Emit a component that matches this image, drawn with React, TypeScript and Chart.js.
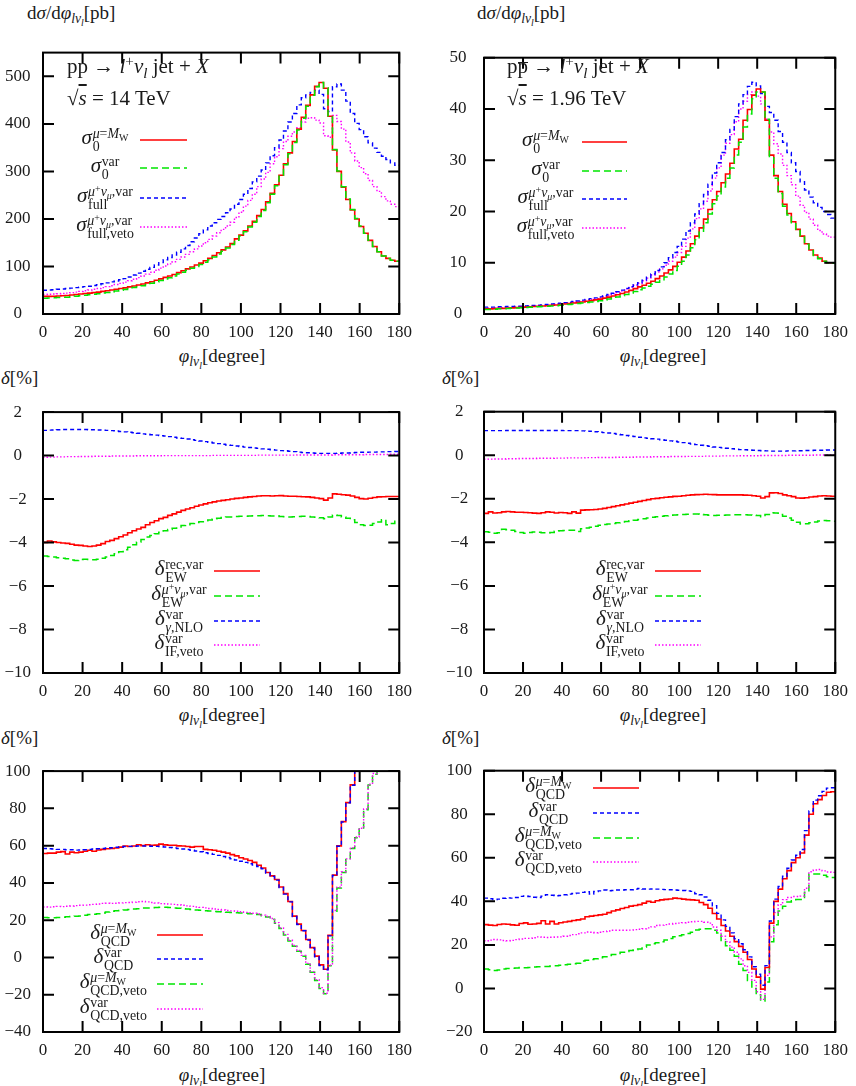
import { useEffect, useRef } from "react";
import type { ReactNode } from "react";
import { Chart, registerables } from "chart.js";

Chart.register(...registerables);

// phi bins: 80 bins of 2.25 degree from 0 to 180
const BIN_WIDTH = 2.25;
const PHI_TICKS = [0, 20, 40, 60, 80, 100, 120, 140, 160, 180];

const LHC_SIGMA_TICKS = [0, 100, 200, 300, 400, 500];
const TEV_SIGMA_TICKS = [0, 10, 20, 30, 40, 50];
const EW_TICKS = [-10, -8, -6, -4, -2, 0, 2];
const LHC_QCD_TICKS = [-40, -20, 0, 20, 40, 60, 80, 100];
const TEV_QCD_TICKS = [-20, 0, 20, 40, 60, 80, 100];

// pp -> l+ nu jet + X, sqrt(s) = 14 TeV   [pb]
const lhcSigmaMw = [
  37, 37, 37.5, 38, 38.5, 39, 40, 41, 42, 43,
  44, 45, 46, 47.5, 49, 50.5, 52, 53.5, 55, 57,
  59, 61, 63, 65.5, 68, 71, 74, 77, 80, 83,
  87, 91, 95, 99, 103, 107, 112, 117, 123, 129,
  135, 141, 148, 158, 166, 175, 185, 195, 207, 220,
  236, 254, 272, 292, 316, 339, 363, 389, 414, 439,
  461, 479, 487, 475, 416, 345, 300, 267, 241, 219,
  200, 184, 170, 155, 142, 131, 122, 117, 113, 111,
];
const lhcSigmaVar = [
  33, 33.5, 34, 34.5, 35, 35.5, 36.5, 37.5, 38.5, 39.5,
  40.5, 41.5, 42.5, 44, 45.5, 47, 48.5, 50, 51.5, 53.5,
  55.5, 57.5, 59.5, 62, 64.5, 67.5, 70.5, 73.5, 76.5, 80,
  84, 88, 92, 96, 100, 104, 109, 114, 120, 126,
  132, 139, 146, 155, 164, 173, 183, 193, 205, 218,
  234, 252, 270, 290, 314, 337, 361, 387, 412, 437,
  460, 478, 487, 476, 417, 346, 301, 268, 242, 220,
  201, 185, 170, 155, 142, 131, 122, 117, 113, 111,
];
const lhcSigmaFull = [
  50, 50.5, 51, 52, 52.5, 53.5, 54.5, 55.5, 56.5, 57.5,
  58.5, 60, 61.5, 63.5, 65.5, 67.5, 69.5, 72, 74.5, 78,
  82, 86, 90, 94, 98, 103, 108, 114, 119, 124,
  130, 137, 144, 152, 160, 169, 177, 185, 192, 199,
  205, 213, 221, 231, 241, 252, 264, 278, 290, 303,
  318, 333, 350, 366, 385, 404, 422, 440, 455, 461,
  466, 471, 462, 432, 426, 478, 484, 471, 448, 422,
  401, 388, 373, 360, 349, 340, 332, 325, 318, 313,
];
const lhcSigmaVeto = [
  41, 41.5, 42, 42.5, 43, 44, 45, 46, 47.5, 49,
  50.5, 52, 53.5, 55.5, 57.5, 59.5, 62, 64.5, 67, 70,
  73, 76.5, 80, 84, 88, 92, 96.5, 101, 105.5, 110,
  115, 120, 125.5, 131, 137, 143, 150, 157, 164, 171,
  178, 185, 193, 203, 214, 227, 239, 252, 268, 284,
  298, 316, 331, 348, 363, 374, 383, 392, 404, 412,
  413, 408, 402, 375, 372, 418, 405, 389, 362, 339,
  322, 308, 295, 281, 268, 258, 247, 238, 231, 226,
];

// p pbar -> l+ nu jet + X, sqrt(s) = 1.96 TeV   [pb]
const tevSigmaMw = [
  1.0, 1.0, 1.05, 1.1, 1.1, 1.15, 1.2, 1.25, 1.3, 1.35,
  1.4, 1.45, 1.5, 1.55, 1.6, 1.7, 1.75, 1.85, 1.95, 2.05,
  2.15, 2.25, 2.35, 2.5, 2.6, 2.75, 2.9, 3.1, 3.3, 3.5,
  3.75, 4.0, 4.3, 4.6, 4.95, 5.3, 5.6, 6.0, 6.4, 6.9,
  7.4, 8.0, 8.6, 9.3, 10.1, 11.1, 12.3, 13.7, 15.2, 16.8,
  18.5, 20.4, 22.3, 23.9, 25.6, 27.3, 29.4, 32.2, 34.1, 37.8,
  39.9, 42.7, 43.9, 43.3, 37.8, 31.0, 27.0, 23.9, 21.4, 19.6,
  18.0, 16.5, 15.2, 13.7, 12.5, 11.5, 10.9, 10.3, 10.0, 10.0,
];
const tevSigmaVar = [
  0.9, 0.9, 0.95, 1.0, 1.0, 1.05, 1.1, 1.15, 1.2, 1.25,
  1.3, 1.35, 1.4, 1.45, 1.5, 1.55, 1.6, 1.7, 1.75, 1.85,
  1.95, 2.05, 2.15, 2.25, 2.35, 2.45, 2.6, 2.75, 2.95, 3.1,
  3.3, 3.55, 3.8, 4.1, 4.4, 4.75, 5.05, 5.4, 5.8, 6.2,
  6.7, 7.2, 7.8, 8.5, 9.3, 10.3, 11.5, 12.9, 14.5, 16.0,
  17.8, 19.5, 21.5, 23.0, 24.8, 26.5, 28.5, 31.0, 33.5, 36.5,
  39.0, 42.0, 43.3, 43.3, 38.0, 30.5, 26.5, 23.5, 21.0, 19.3,
  17.8, 16.3, 15.0, 13.6, 12.4, 11.4, 10.8, 10.3, 10.0, 9.9,
];
const tevSigmaFull = [
  1.35, 1.35, 1.35, 1.4, 1.4, 1.45, 1.45, 1.5, 1.5, 1.55,
  1.6, 1.65, 1.7, 1.8, 1.85, 1.95, 2.0, 2.1, 2.2, 2.3,
  2.45, 2.55, 2.7, 2.85, 3.0, 3.15, 3.35, 3.55, 3.8, 4.05,
  4.35, 4.65, 5.0, 5.35, 5.7, 6.1, 6.6, 7.2, 7.8, 8.5,
  9.2, 10.0, 11.0, 12.0, 13.2, 14.6, 16.2, 17.8, 19.5, 21.5,
  23.3, 25.3, 27.5, 29.5, 31.5, 34.0, 36.0, 38.5, 41.0, 42.8,
  44.4, 45.2, 44.5, 43.0, 40.5, 39.3, 37.8, 35.6, 33.5, 31.5,
  29.5, 27.8, 25.8, 24.2, 22.8, 21.7, 20.8, 20.0, 19.4, 18.7,
];
const tevSigmaVeto = [
  1.2, 1.2, 1.2, 1.25, 1.25, 1.3, 1.3, 1.35, 1.4, 1.45,
  1.5, 1.55, 1.6, 1.65, 1.75, 1.8, 1.9, 2.0, 2.1, 2.2,
  2.3, 2.45, 2.55, 2.7, 2.85, 3.0, 3.2, 3.4, 3.65, 3.9,
  4.2, 4.5, 4.85, 5.2, 5.6, 6.0, 6.5, 7.0, 7.6, 8.2,
  8.8, 9.5, 10.3, 11.1, 12.0, 13.2, 14.8, 16.6, 18.6, 20.5,
  22.0, 24.0, 26.5, 28.5, 31.0, 33.3, 35.0, 37.5, 40.0, 41.5,
  42.8, 43.3, 42.5, 41.0, 38.0, 35.5, 33.2, 31.2, 29.0, 27.0,
  25.2, 23.0, 21.2, 19.8, 18.5, 17.3, 16.3, 15.6, 15.2, 15.0,
];

// electroweak corrections [%], LHC
const lhcEwRec = [
  -3.99, -3.93, -3.97, -4.0, -4.02, -4.04, -4.08, -4.12, -4.13, -4.16,
  -4.18, -4.16, -4.12, -4.05, -3.95, -3.9, -3.82, -3.73, -3.65, -3.55,
  -3.46, -3.38, -3.3, -3.18, -3.08, -3.0, -2.9, -2.84, -2.75, -2.68,
  -2.6, -2.52, -2.46, -2.4, -2.33, -2.27, -2.22, -2.17, -2.13, -2.09,
  -2.06, -2.03, -2.0, -1.97, -1.95, -1.92, -1.9, -1.88, -1.86, -1.85,
  -1.85, -1.86, -1.85, -1.84, -1.86, -1.87, -1.87, -1.88, -1.89, -1.9,
  -1.92, -1.95, -1.98, -2.05, -1.95, -1.76, -1.78, -1.8, -1.82, -1.86,
  -1.92, -1.98, -2.0, -1.96, -1.93, -1.9, -1.89, -1.88, -1.88, -1.88,
];
const lhcEwMu = [
  -4.62, -4.64, -4.66, -4.7, -4.72, -4.75, -4.8, -4.82, -4.78, -4.77,
  -4.78, -4.79, -4.77, -4.72, -4.66, -4.6, -4.52, -4.42, -4.33, -4.22,
  -4.1, -3.98, -3.86, -3.75, -3.68, -3.6, -3.53, -3.46, -3.4, -3.34,
  -3.28, -3.22, -3.18, -3.12, -3.08, -3.04, -3.0, -2.96, -2.92, -2.88,
  -2.85, -2.83, -2.82, -2.8, -2.79, -2.79, -2.78, -2.77, -2.77, -2.76,
  -2.77, -2.78, -2.77, -2.8, -2.81, -2.82, -2.81, -2.8, -2.79, -2.8,
  -2.82, -2.84, -2.86, -2.9, -2.82, -2.73, -2.76, -2.82, -2.88, -2.95,
  -3.08, -3.18, -3.22, -3.2, -3.12, -3.05, -2.95, -3.18, -3.12, -3.02,
];
const lhcGammaNlo = [
  1.16, 1.17, 1.18, 1.19, 1.2, 1.2, 1.2, 1.2, 1.2, 1.2,
  1.19, 1.19, 1.18, 1.17, 1.16, 1.15, 1.13, 1.11, 1.09, 1.07,
  1.05, 1.03, 1.0, 0.98, 0.96, 0.94, 0.92, 0.9, 0.87, 0.84,
  0.81, 0.79, 0.76, 0.73, 0.7, 0.67, 0.64, 0.61, 0.58, 0.55,
  0.52, 0.49, 0.47, 0.44, 0.42, 0.39, 0.37, 0.35, 0.33, 0.31,
  0.29, 0.27, 0.25, 0.23, 0.22, 0.2, 0.18, 0.16, 0.14, 0.13,
  0.12, 0.11, 0.1, 0.1, 0.1, 0.1, 0.11, 0.12, 0.12, 0.13,
  0.14, 0.15, 0.15, 0.16, 0.16, 0.17, 0.17, 0.18, 0.18, 0.19,
];
const lhcIfVeto = [
  -0.08, -0.07, -0.07, -0.06, -0.06, -0.05, -0.05, -0.05, -0.04, -0.04,
  -0.04, -0.03, -0.03, -0.03, -0.03, -0.02, -0.02, -0.02, -0.02, -0.02,
  -0.02, -0.01, -0.01, -0.01, -0.01, -0.01, -0.01, 0, 0, 0,
  0, 0, 0, 0, 0, 0, 0, 0, 0.01, 0.01,
  0.01, 0.01, 0.01, 0.01, 0.01, 0.01, 0.01, 0.01, 0.02, 0.02,
  0.02, 0.02, 0.02, 0.02, 0.02, 0.02, 0.02, 0.03, 0.03, 0.03,
  0.03, 0.03, 0.03, 0.03, 0.03, 0.04, 0.04, 0.04, 0.04, 0.04,
  0.04, 0.04, 0.05, 0.05, 0.05, 0.05, 0.05, 0.05, 0.06, 0.06,
];

// electroweak corrections [%], Tevatron
const tevEwRec = [
  -2.67, -2.6, -2.65, -2.64, -2.6, -2.58, -2.6, -2.62, -2.62, -2.63,
  -2.64, -2.66, -2.67, -2.64, -2.6, -2.62, -2.65, -2.63, -2.64, -2.67,
  -2.6, -2.66, -2.52, -2.51, -2.5, -2.49, -2.47, -2.44, -2.4, -2.36,
  -2.32, -2.28, -2.24, -2.2, -2.16, -2.12, -2.08, -2.04, -2.0, -1.98,
  -1.95, -1.93, -1.91, -1.89, -1.88, -1.86, -1.84, -1.82, -1.81, -1.8,
  -1.79, -1.8, -1.81, -1.82, -1.82, -1.82, -1.82, -1.82, -1.82, -1.83,
  -1.84, -1.86, -1.88, -1.96, -1.9, -1.73, -1.72, -1.76, -1.82, -1.86,
  -1.9, -1.96, -1.97, -1.95, -1.92, -1.9, -1.87, -1.86, -1.87, -1.88,
];
const tevEwMu = [
  -3.51, -3.54, -3.58, -3.56, -3.4, -3.42, -3.45, -3.5, -3.55, -3.58,
  -3.55, -3.52, -3.54, -3.56, -3.57, -3.55, -3.49, -3.47, -3.46, -3.44,
  -3.45, -3.5, -3.37, -3.34, -3.31, -3.26, -3.22, -3.18, -3.16, -3.14,
  -3.1, -3.07, -3.04, -3.01, -2.98, -2.95, -2.92, -2.88, -2.85, -2.82,
  -2.8, -2.78, -2.76, -2.74, -2.73, -2.72, -2.71, -2.7, -2.7, -2.71,
  -2.73, -2.76, -2.77, -2.76, -2.75, -2.74, -2.74, -2.73, -2.73, -2.73,
  -2.74, -2.75, -2.77, -2.82, -2.72, -2.64, -2.65, -2.72, -2.8, -2.88,
  -2.98, -3.08, -3.16, -3.15, -3.1, -3.06, -3.02, -3.0, -3.01, -3.03,
];
const tevGammaNlo = [
  1.13, 1.13, 1.13, 1.13, 1.13, 1.14, 1.14, 1.14, 1.14, 1.14,
  1.14, 1.14, 1.14, 1.14, 1.14, 1.14, 1.14, 1.14, 1.13, 1.13,
  1.13, 1.13, 1.12, 1.11, 1.1, 1.08, 1.06, 1.04, 1.02, 1.0,
  0.97, 0.94, 0.91, 0.88, 0.86, 0.83, 0.8, 0.78, 0.76, 0.74,
  0.71, 0.69, 0.66, 0.64, 0.61, 0.58, 0.55, 0.52, 0.49, 0.46,
  0.44, 0.41, 0.38, 0.36, 0.34, 0.32, 0.3, 0.28, 0.26, 0.25,
  0.24, 0.23, 0.22, 0.21, 0.2, 0.19, 0.19, 0.19, 0.19, 0.2,
  0.2, 0.21, 0.21, 0.22, 0.22, 0.23, 0.23, 0.23, 0.24, 0.24,
];
const tevIfVeto = [
  -0.18, -0.18, -0.17, -0.17, -0.17, -0.16, -0.16, -0.16, -0.15, -0.15,
  -0.15, -0.15, -0.14, -0.14, -0.14, -0.14, -0.13, -0.13, -0.13, -0.12,
  -0.12, -0.12, -0.12, -0.11, -0.11, -0.11, -0.1, -0.1, -0.1, -0.1,
  -0.09, -0.09, -0.09, -0.09, -0.08, -0.08, -0.08, -0.08, -0.07, -0.07,
  -0.07, -0.07, -0.06, -0.06, -0.06, -0.06, -0.05, -0.05, -0.05, -0.05,
  -0.04, -0.04, -0.04, -0.04, -0.03, -0.03, -0.03, -0.03, -0.02, -0.02,
  -0.02, -0.02, -0.02, -0.01, -0.01, -0.01, -0.01, -0.01, -0.01, 0,
  0, 0, 0, 0, 0, 0.01, 0.01, 0.01, 0.01, 0.01,
];

// QCD corrections [%], LHC
const lhcQcdMw = [
  55.8, 56.0, 56.0, 56.5, 56.8, 55.5, 56.5, 56.2, 56.5, 57.0,
  57.5, 57.0, 57.7, 58.0, 58.3, 58.5, 58.7, 59.2, 59.8, 59.5,
  59.8, 60.5, 60.0, 60.5, 60.2, 60.3, 60.8, 60.4, 60.2, 60.2,
  59.9, 59.8, 59.5, 59.2, 59.5, 59.5, 58.0, 57.8, 57.5, 57.0,
  56.5, 56.0, 55.2, 54.5, 53.5, 52.8, 52.0, 51.0, 49.5, 48.0,
  45.6, 43.8, 41.8, 37.8, 34.3, 30.0, 22.2, 17.9, 14.5, 9.6,
  5.3, 0.7, -4.0, -6.3, 11.9, 44.2, 59.9, 72.9, 83.1, 92.6,
  104, 112, 120, 128, 136, 144, 152, 160, 168, 176,
];
const lhcQcdVar = [
  58.5, 58.3, 58.2, 58.0, 58.0, 57.8, 57.8, 57.6, 57.7, 57.8,
  58.0, 58.2, 58.3, 58.5, 58.7, 58.9, 59.1, 59.3, 59.5, 59.6,
  59.7, 59.8, 59.8, 59.8, 59.7, 59.6, 59.5, 59.3, 59.0, 58.8,
  58.5, 58.2, 57.9, 57.5, 57.1, 56.7, 56.2, 55.8, 55.3, 54.8,
  54.2, 53.6, 53.0, 52.3, 51.6, 51.0, 50.3, 49.6, 48.8, 47.6,
  45.3, 43.5, 41.5, 37.5, 34.0, 29.8, 22.0, 17.7, 14.3, 9.4,
  5.0, 0.4, -4.3, -6.6, 11.6, 44.0, 59.7, 72.7, 83.0, 92.4,
  104, 112, 120, 128, 136, 144, 152, 160, 168, 176,
];
const lhcQcdVetoMw = [
  21.5, 21.3, 21.3, 21.5, 21.6, 21.8, 22.0, 22.1, 22.2, 22.6,
  23.0, 23.2, 23.5, 23.8, 24.4, 24.8, 25.0, 25.2, 25.5, 25.7,
  26.0, 26.2, 26.5, 26.6, 26.7, 26.8, 26.9, 26.9, 26.8, 26.6,
  26.4, 26.2, 26.0, 25.8, 25.5, 25.3, 25.1, 24.9, 24.7, 24.5,
  24.4, 24.2, 24.1, 24.0, 23.9, 23.7, 23.5, 23.4, 23.0, 22.4,
  21.7, 20.5, 18.3, 15.5, 12.0, 8.8, 6.0, 3.3, 0.7, -3.6,
  -8.0, -12.3, -16.6, -19.5, -4.5, 24.8, 37.3, 45.6, 52.5, 58.5,
  64.2, 68.9, 79.3, 92.6, 98.3, 104, 108, 112, 116, 120,
];
const lhcQcdVetoVar = [
  27.1, 27.0, 27.2, 27.4, 27.3, 27.5, 27.6, 27.8, 28.0, 28.1,
  28.3, 28.5, 28.7, 29.0, 29.1, 29.0, 29.1, 29.3, 29.4, 29.5,
  29.7, 29.9, 30.0, 29.8, 29.5, 29.2, 28.9, 28.8, 28.6, 28.5,
  28.3, 28.0, 27.7, 27.4, 27.1, 26.9, 26.6, 26.3, 26.0, 25.7,
  25.5, 25.2, 25.0, 24.8, 24.5, 24.2, 24.0, 23.7, 23.3, 22.7,
  22.0, 20.9, 18.7, 15.9, 12.4, 9.2, 6.4, 3.7, 1.1, -3.2,
  -7.6, -11.9, -16.2, -19.2, -4.1, 25.2, 37.7, 46.0, 52.9, 58.9,
  64.6, 69.3, 79.7, 93.0, 98.7, 104, 108, 112, 116, 120,
];

// QCD corrections [%], Tevatron
const tevQcdMw = [
  29.3, 29.1, 28.9, 29.4, 29.6, 29.5, 29.2, 29.0, 29.8, 30.1,
  29.5, 29.6, 29.9, 31.1, 29.6, 30.8, 29.6, 30.2, 30.5, 30.8,
  31.2, 31.5, 31.9, 32.9, 33.2, 33.5, 33.8, 34.1, 34.8, 35.6,
  36.1, 36.7, 37.2, 37.8, 38.1, 38.5, 39.2, 40.0, 39.6, 40.3,
  40.7, 40.9, 41.1, 41.5, 41.3, 41.0, 40.8, 40.7, 40.5, 39.5,
  38.5, 36.8, 34.4, 31.9, 28.9, 26.4, 24.0, 21.5, 19.3, 16.6,
  13.3, 8.9, 5.2, -0.3, 9.6, 30.0, 40.0, 45.6, 50.4, 54.1,
  57.8, 60.0, 62.2, 70.4, 80.0, 84.8, 86.7, 88.6, 90.1, 90.3,
];
const tevQcdVar = [
  41.5, 41.2, 40.8, 41.0, 41.4, 41.6, 41.5, 41.8, 42.3, 42.5,
  42.2, 41.9, 41.8, 42.4, 43.0, 42.8, 42.6, 42.7, 43.0, 43.3,
  43.6, 43.8, 44.1, 44.4, 43.4, 44.5, 44.8, 45.2, 44.9, 45.0,
  45.2, 45.2, 45.3, 45.3, 45.6, 45.9, 45.7, 45.6, 45.7, 45.6,
  45.5, 45.4, 45.3, 45.2, 45.1, 45.0, 44.8, 44.6, 43.5, 43.0,
  42.0, 40.5, 38.0, 34.5, 31.5, 28.5, 25.5, 22.8, 20.5, 17.8,
  14.5, 10.0, 6.5, 1.5, 10.5, 31.0, 41.0, 46.8, 51.5, 55.2,
  59.0, 61.2, 63.8, 72.5, 81.5, 86.5, 88.5, 90.5, 92.0, 92.2,
];
const tevQcdVetoMw = [
  8.9, 8.6, 8.3, 8.5, 8.9, 9.2, 9.3, 9.4, 9.6, 9.5,
  9.6, 9.8, 10.0, 10.1, 10.1, 10.3, 10.4, 10.6, 10.9, 11.1,
  11.3, 11.6, 12.6, 12.9, 13.3, 13.6, 14.1, 14.6, 15.1, 15.6,
  16.1, 16.6, 17.0, 17.4, 17.8, 18.1, 19.0, 20.0, 20.5, 21.0,
  21.5, 22.2, 22.9, 23.7, 24.2, 24.7, 25.2, 25.8, 26.8, 27.2,
  27.4, 27.4, 26.7, 25.5, 21.5, 19.6, 17.5, 14.8, 11.1, 8.2,
  3.7, 0.0, -2.9, -5.8, 3.0, 21.5, 29.3, 35.6, 37.8, 39.7,
  40.3, 40.8, 40.8, 44.2, 52.6, 52.6, 52.6, 52.0, 51.3, 51.0,
];
const tevQcdVetoVar = [
  21.9, 22.2, 22.5, 22.3, 22.0, 21.9, 22.1, 22.4, 22.7, 23.0,
  23.0, 23.3, 23.7, 23.5, 23.4, 23.5, 23.6, 23.7, 24.0, 24.3,
  24.7, 25.1, 25.5, 25.9, 25.8, 25.6, 25.8, 26.1, 26.4, 26.7,
  26.7, 26.7, 26.7, 26.8, 27.0, 27.2, 27.4, 27.8, 28.3, 28.9,
  29.1, 29.3, 29.6, 29.8, 30.0, 30.2, 30.4, 30.6, 30.8, 30.8,
  30.4, 30.0, 28.2, 26.7, 24.0, 21.5, 19.0, 16.6, 13.6, 10.4,
  7.4, 3.7, -1.5, -5.0, 6.0, 23.7, 34.8, 38.5, 40.8, 41.8,
  42.2, 42.2, 42.4, 46.0, 53.6, 54.4, 54.6, 54.0, 53.5, 53.3,
];

const FONT = '"Liberation Serif", "DejaVu Serif", serif';
const INK = "#1a1a1a";
const TICK_LEN = 11;
const Y_AXIS_W = 43;
const X_AXIS_H = 30;

type LineStyle = { color: string; dash: number[]; width: number };
const RED: LineStyle = { color: "#ff0000", dash: [], width: 1.6 };
const GREEN: LineStyle = { color: "#00e600", dash: [7, 4], width: 1.5 };
const BLUE: LineStyle = { color: "#0000ff", dash: [4, 3], width: 1.4 };
const MAGENTA: LineStyle = { color: "#ff00ff", dash: [1.5, 2], width: 1.4 };

type Series = { values: number[]; style: LineStyle; order: number };

function stepPoints(values: number[]) {
  const pts = values.map((v, i) => ({ x: i * BIN_WIDTH, y: v }));
  pts.push({ x: values.length * BIN_WIDTH, y: values[values.length - 1] });
  return pts;
}

function fmtTick(v: number) {
  return v < 0 ? "\u2212" + Math.abs(v) : String(v);
}

const framePlugin = {
  id: "frame",
  afterDraw(chart: any) {
    const { ctx, chartArea: a, scales } = chart;
    ctx.save();
    ctx.strokeStyle = "#000";
    ctx.lineWidth = 2;
    ctx.beginPath();
    for (const t of scales.x.ticks) {
      const px = scales.x.getPixelForValue(t.value);
      ctx.moveTo(px, a.bottom);
      ctx.lineTo(px, a.bottom - TICK_LEN);
      ctx.moveTo(px, a.top);
      ctx.lineTo(px, a.top + TICK_LEN);
    }
    for (const t of scales.y.ticks) {
      const py = scales.y.getPixelForValue(t.value);
      ctx.moveTo(a.left, py);
      ctx.lineTo(a.left + TICK_LEN, py);
      ctx.moveTo(a.right, py);
      ctx.lineTo(a.right - TICK_LEN, py);
    }
    ctx.stroke();
    ctx.strokeRect(a.left, a.top, a.right - a.left, a.bottom - a.top);
    ctx.restore();
  },
};

type PanelProps = {
  left: number;
  top: number;
  width: number;
  height: number;
  padTop: number;
  padRight: number;
  yMin: number;
  yMax: number;
  yTicks: number[];
  tickPad: number;
  series: Series[];
};

function HistPanel(p: PanelProps) {
  const ref = useRef<HTMLCanvasElement>(null);

  useEffect(() => {
    if (!ref.current) return;
    const tickFont = { family: FONT, size: 17 };
    const chart = new Chart(ref.current, {
      type: "line",
      data: {
        datasets: p.series.map((s) => ({
          data: stepPoints(s.values),
          borderColor: s.style.color,
          borderDash: s.style.dash,
          borderWidth: s.style.width,
          pointRadius: 0,
          stepped: "before" as const,
          fill: false,
          order: s.order,
        })),
      },
      options: {
        animation: false,
        responsive: false,
        maintainAspectRatio: false,
        events: [],
        layout: { padding: { left: 0, right: p.padRight, top: p.padTop, bottom: 0 } },
        plugins: { legend: { display: false }, tooltip: { enabled: false } },
        scales: {
          x: {
            type: "linear",
            min: 0,
            max: 180,
            grid: { display: false, drawTicks: false },
            border: { display: false },
            ticks: { padding: 8, font: tickFont, color: INK, maxRotation: 0, autoSkip: false },
            afterBuildTicks: (s: any) => {
              s.ticks = PHI_TICKS.map((v) => ({ value: v }));
            },
            afterFit: (s: any) => {
              s.height = X_AXIS_H;
            },
          },
          y: {
            type: "linear",
            min: p.yMin,
            max: p.yMax,
            grid: { display: false, drawTicks: false },
            border: { display: false },
            ticks: {
              padding: p.tickPad,
              crossAlign: "center",
              font: tickFont,
              color: INK,
              autoSkip: false,
              callback: (v: any) => fmtTick(Number(v)),
            },
            afterBuildTicks: (s: any) => {
              s.ticks = p.yTicks.map((v) => ({ value: v }));
            },
            afterFit: (s: any) => {
              s.width = Y_AXIS_W;
            },
          },
        },
      },
      plugins: [framePlugin],
    } as any);
    return () => chart.destroy();
  }, []);

  return (
    <canvas
      ref={ref}
      width={p.width}
      height={p.height}
      style={{ position: "absolute", left: p.left, top: p.top, width: p.width, height: p.height }}
    />
  );
}

// ---- math-ish text helpers ----
function Sup({ children }: { children: ReactNode }) {
  return <span style={{ fontSize: "0.72em", verticalAlign: "0.45em", lineHeight: 0 }}>{children}</span>;
}
function Sub({ children }: { children: ReactNode }) {
  return <span style={{ fontSize: "0.72em", verticalAlign: "-0.3em", lineHeight: 0 }}>{children}</span>;
}
function Bar({ children }: { children: ReactNode }) {
  return (
    <span style={{ display: "inline-block", borderTop: "1.2px solid currentColor", lineHeight: "0.35em" }}>
      {children}
    </span>
  );
}
function Stack({ sup, sub }: { sup: ReactNode; sub: ReactNode }) {
  return (
    <span
      style={{
        display: "inline-flex",
        flexDirection: "column",
        alignItems: "flex-start",
        fontSize: "0.66em",
        lineHeight: 0.95,
        verticalAlign: "0.42em",
        marginTop: "-2em",
        marginBottom: "-2em",
        marginLeft: "0.05em",
      }}
    >
      <span>{sup}</span>
      <span>{sub}</span>
    </span>
  );
}

const muEqMw = (
  <>
    <i>μ</i>=<i>M</i>
    <Sub>W</Sub>
  </>
);
const muNuVar = (
  <>
    <i>μ</i>
    <Sup>+</Sup>
    <i>ν</i>
    <Sub>
      <i>μ</i>
    </Sub>
    ,var
  </>
);
const phiSub = (
  <Sub>
    <i>lν</i>
    <Sub>
      <i>l</i>
    </Sub>
  </Sub>
);

type LegendEntry = { label: ReactNode; style: LineStyle; y: number };

function Legend({ cx, x0, x1, entries }: { cx: number; x0: number; x1: number; entries: LegendEntry[] }) {
  return (
    <>
      {entries.map((e, i) => (
        <div key={i}>
          <div
            style={{
              position: "absolute",
              left: cx,
              top: e.y - 13,
              transform: "translateX(-50%)",
              fontSize: 21,
              lineHeight: "20px",
              height: 20,
              whiteSpace: "nowrap",
              color: INK,
            }}
          >
            {e.label}
          </div>
          <svg style={{ position: "absolute", left: x0, top: e.y - 3 }} width={x1 - x0} height={6}>
            <line
              x1={0}
              y1={3}
              x2={x1 - x0}
              y2={3}
              stroke={e.style.color}
              strokeWidth={e.style.width}
              strokeDasharray={e.style.dash.length ? e.style.dash.join(" ") : undefined}
            />
          </svg>
        </div>
      ))}
    </>
  );
}

function Label({ left, top, center, size, children }: { left: number; top: number; center?: boolean; size: number; children: ReactNode }) {
  return (
    <div
      style={{
        position: "absolute",
        left,
        top,
        transform: center ? "translateX(-50%)" : undefined,
        fontSize: size,
        lineHeight: size + "px",
        whiteSpace: "nowrap",
        color: INK,
      }}
    >
      {children}
    </div>
  );
}

const sigmaYTitle = (
  <>
    d<i>σ</i>/d<i>φ</i>
    {phiSub}[pb]
  </>
);
const deltaYTitle = (
  <>
    <i>δ</i>[%]
  </>
);
const phiXTitle = (
  <>
    <i>φ</i>
    {phiSub}[degree]
  </>
);

const COL_LEFT = [0, 441];
const COL_WIDTH = [420, 415];
const COL_PAD_RIGHT = [19, 13.5];

export default function App() {
  const sigmaLegend = (ys: number[]): LegendEntry[] => [
    { label: <><i>σ</i><Stack sup={muEqMw} sub="0" /></>, style: RED, y: ys[0] },
    { label: <><i>σ</i><Stack sup="var" sub="0" /></>, style: GREEN, y: ys[1] },
    { label: <><i>σ</i><Stack sup={muNuVar} sub="full" /></>, style: BLUE, y: ys[2] },
    { label: <><i>σ</i><Stack sup={muNuVar} sub="full,veto" /></>, style: MAGENTA, y: ys[3] },
  ];
  const ewLegend = (ys: number[]): LegendEntry[] => [
    { label: <><i>δ</i><Stack sup="rec,var" sub="EW" /></>, style: RED, y: ys[0] },
    { label: <><i>δ</i><Stack sup={muNuVar} sub="EW" /></>, style: GREEN, y: ys[1] },
    { label: <><i>δ</i><Stack sup="var" sub={<><i>γ</i>,NLO</>} /></>, style: BLUE, y: ys[2] },
    { label: <><i>δ</i><Stack sup="var" sub="IF,veto" /></>, style: MAGENTA, y: ys[3] },
  ];
  const qcdLegend = (ys: number[]): LegendEntry[] => [
    { label: <><i>δ</i><Stack sup={muEqMw} sub="QCD" /></>, style: RED, y: ys[0] },
    { label: <><i>δ</i><Stack sup="var" sub="QCD" /></>, style: BLUE, y: ys[1] },
    { label: <><i>δ</i><Stack sup={muEqMw} sub="QCD,veto" /></>, style: GREEN, y: ys[2] },
    { label: <><i>δ</i><Stack sup="var" sub="QCD,veto" /></>, style: MAGENTA, y: ys[3] },
  ];

  return (
    <div
      style={{
        position: "absolute",
        left: 0,
        top: 0,
        width: 856,
        height: 1086,
        overflow: "hidden",
        background: "#fff",
        fontFamily: FONT,
      }}
    >
      {/* row 1: cross sections */}
      <HistPanel
        left={COL_LEFT[0]} top={30} width={COL_WIDTH[0]} height={314} padTop={14} padRight={COL_PAD_RIGHT[0]}
        yMin={0} yMax={550} yTicks={LHC_SIGMA_TICKS} tickPad={12.4}
        series={[
          { values: lhcSigmaVar, style: GREEN, order: 0 },
          { values: lhcSigmaMw, style: RED, order: 1 },
          { values: lhcSigmaFull, style: BLUE, order: 2 },
          { values: lhcSigmaVeto, style: MAGENTA, order: 3 },
        ]}
      />
      <HistPanel
        left={COL_LEFT[1]} top={30} width={COL_WIDTH[1]} height={314} padTop={14} padRight={COL_PAD_RIGHT[1]}
        yMin={0} yMax={50} yTicks={TEV_SIGMA_TICKS} tickPad={17.5}
        series={[
          { values: tevSigmaVar, style: GREEN, order: 0 },
          { values: tevSigmaMw, style: RED, order: 1 },
          { values: tevSigmaFull, style: BLUE, order: 2 },
          { values: tevSigmaVeto, style: MAGENTA, order: 3 },
        ]}
      />

      {/* row 2: electroweak corrections */}
      <HistPanel
        left={COL_LEFT[0]} top={390} width={COL_WIDTH[0]} height={313} padTop={13} padRight={COL_PAD_RIGHT[0]}
        yMin={-10} yMax={2} yTicks={EW_TICKS} tickPad={11.9}
        series={[
          { values: lhcEwRec, style: RED, order: 0 },
          { values: lhcEwMu, style: GREEN, order: 1 },
          { values: lhcGammaNlo, style: BLUE, order: 2 },
          { values: lhcIfVeto, style: MAGENTA, order: 3 },
        ]}
      />
      <HistPanel
        left={COL_LEFT[1]} top={390} width={COL_WIDTH[1]} height={313} padTop={13} padRight={COL_PAD_RIGHT[1]}
        yMin={-10} yMax={2} yTicks={EW_TICKS} tickPad={11.5}
        series={[
          { values: tevEwRec, style: RED, order: 0 },
          { values: tevEwMu, style: GREEN, order: 1 },
          { values: tevGammaNlo, style: BLUE, order: 2 },
          { values: tevIfVeto, style: MAGENTA, order: 3 },
        ]}
      />

      {/* row 3: QCD corrections */}
      <HistPanel
        left={COL_LEFT[0]} top={749} width={COL_WIDTH[0]} height={313} padTop={13} padRight={COL_PAD_RIGHT[0]}
        yMin={-40} yMax={100} yTicks={LHC_QCD_TICKS} tickPad={11.9}
        series={[
          { values: lhcQcdVar, style: BLUE, order: 0 },
          { values: lhcQcdMw, style: RED, order: 1 },
          { values: lhcQcdVetoVar, style: MAGENTA, order: 2 },
          { values: lhcQcdVetoMw, style: GREEN, order: 3 },
        ]}
      />
      <HistPanel
        left={COL_LEFT[1]} top={749} width={COL_WIDTH[1]} height={313} padTop={13} padRight={COL_PAD_RIGHT[1]}
        yMin={-20} yMax={100} yTicks={TEV_QCD_TICKS} tickPad={11.5}
        series={[
          { values: tevQcdVar, style: BLUE, order: 0 },
          { values: tevQcdMw, style: RED, order: 1 },
          { values: tevQcdVetoVar, style: MAGENTA, order: 2 },
          { values: tevQcdVetoMw, style: GREEN, order: 3 },
        ]}
      />

      {/* axis titles */}
      <Label left={27} top={3} size={19}>{sigmaYTitle}</Label>
      <Label left={477} top={3} size={19}>{sigmaYTitle}</Label>
      <Label left={1} top={368} size={19}>{deltaYTitle}</Label>
      <Label left={442} top={368} size={19}>{deltaYTitle}</Label>
      <Label left={1} top={728} size={19}>{deltaYTitle}</Label>
      <Label left={442} top={728} size={19}>{deltaYTitle}</Label>
      <Label left={222} top={346} size={19} center>{phiXTitle}</Label>
      <Label left={663} top={346} size={19} center>{phiXTitle}</Label>
      <Label left={222} top={705} size={19} center>{phiXTitle}</Label>
      <Label left={663} top={705} size={19} center>{phiXTitle}</Label>
      <Label left={222} top={1065} size={19} center>{phiXTitle}</Label>
      <Label left={663} top={1065} size={19} center>{phiXTitle}</Label>

      {/* process annotations */}
      <Label left={67} top={56} size={21}>
        pp → <i>l</i><Sup>+</Sup><i>ν</i><Sub><i>l</i></Sub> jet + <i>X</i>
      </Label>
      <Label left={67} top={88} size={21}>
        √<span style={{ textDecoration: "overline" }}><i>s</i></span> = 14 TeV
      </Label>
      <Label left={507} top={56} size={21}>
        p<Bar>p</Bar> → <i>l</i><Sup>+</Sup><i>ν</i><Sub><i>l</i></Sub> jet + <i>X</i>
      </Label>
      <Label left={507} top={88} size={21}>
        √<span style={{ textDecoration: "overline" }}><i>s</i></span> = 1.96 TeV
      </Label>

      {/* legends */}
      <Legend cx={105} x0={140} x1={187} entries={sigmaLegend([140, 168, 198, 227])} />
      <Legend cx={545.5} x0={582} x1={627} entries={sigmaLegend([142, 171, 199, 228])} />
      <Legend cx={179} x0={214} x1={260} entries={ewLegend([571, 596, 621, 645])} />
      <Legend cx={620} x0={655} x1={701} entries={ewLegend([571, 596, 621, 645])} />
      <Legend cx={113.3} x0={157} x1={203} entries={qcdLegend([935, 959, 984, 1009])} />
      <Legend cx={548.3} x0={593} x1={639} entries={qcdLegend([788, 813, 838, 862])} />
    </div>
  );
}
